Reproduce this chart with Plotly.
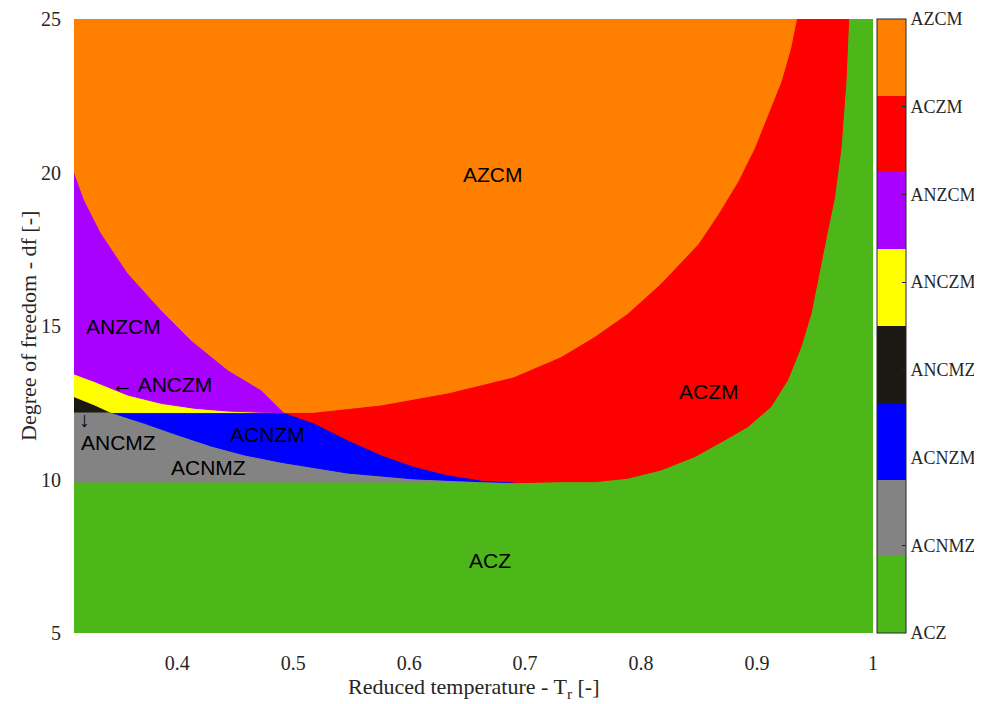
import plotly.graph_objects as go

# ---------------- data ----------------
X_MIN, X_MAX = 0.311, 1.0
Y_MIN, Y_MAX = 5.0, 25.0
Y_BASE = 9.9      # top of the ACZ band on the left
Y_FLAT = 12.18    # flat boundary (top of ACNZM / ACNMZ)

# regime names / colours, bottom-up as on the colour bar
REGION_NAMES = ["ACZ", "ACNMZ", "ACNZM", "ANCMZ", "ANCZM", "ANZCM", "ACZM", "AZCM"]
REGION_COLORS = ["#4DB71A", "#838383", "#0000FF", "#1C1915",
                 "#FFFF00", "#AA00FF", "#FF0000", "#FF8000"]
REGION_CODES = [1, 2, 3, 4, 5, 6, 7, 8]

# boundary: AZCM (orange) / ANZCM (purple)
OP_X = [0.311, 0.320, 0.3345, 0.3575, 0.3862, 0.412, 0.4437, 0.4724, 0.4922]
OP_Y = [20.03, 19.10, 18.02, 16.72, 15.52, 14.54, 13.57, 12.92, 12.18]

# boundary: AZCM (orange) / ACZM (red)
OR_X = [0.4922, 0.518, 0.576, 0.6336, 0.690, 0.731, 0.7597, 0.7885, 0.8172,
        0.849, 0.8661, 0.8834, 0.8977, 0.9092, 0.9207, 0.929, 0.934]
OR_Y = [12.18, 12.19, 12.43, 12.82, 13.34, 14.00, 14.65, 15.41, 16.39,
        17.66, 18.62, 19.70, 20.79, 21.87, 22.96, 24.05, 25.0]

# boundary: ACZM (red) / ACZ (green)
RG_X = [0.6966, 0.731, 0.760, 0.7885, 0.8172, 0.846, 0.8747, 0.892, 0.912,
        0.9264, 0.938, 0.9466, 0.9552, 0.961, 0.9667, 0.9724, 0.9767, 0.979]
RG_Y = [9.90, 9.93, 9.93, 10.04, 10.31, 10.74, 11.34, 11.72, 12.37,
        13.24, 14.33, 15.41, 17.04, 18.13, 19.16, 20.79, 22.96, 25.0]

# boundary: ACZM (red) / ACNZM (blue)
RB_X = [0.4922, 0.5184, 0.547, 0.5759, 0.6046, 0.6334, 0.662, 0.6966]
RB_Y = [12.18, 11.83, 11.29, 10.80, 10.42, 10.15, 9.98, 9.90]

# boundary: ACNZM (blue) / ACNMZ (gray)
BG_X = [0.3431, 0.3718, 0.4006, 0.4293, 0.458, 0.4897, 0.547, 0.6046, 0.662, 0.690]
BG_Y = [12.18, 11.83, 11.45, 11.09, 10.80, 10.56, 10.21, 10.02, 9.93, 9.90]

# boundary: ANCZM (yellow) / ANZCM (purple)
YP_X = [0.311, 0.3287, 0.3575, 0.3862, 0.415, 0.4437, 0.4724, 0.4922]
YP_Y = [13.44, 13.19, 12.75, 12.48, 12.32, 12.23, 12.19, 12.18]

# boundary: ANCMZ (black) / ANCZM (yellow)
KY_X = [0.311, 0.3287, 0.3431]
KY_Y = [12.70, 12.43, 12.18]

# in-plot labels
LABEL_TEXT = ["AZCM", "ANZCM", "\u2190 ANCZM", "\u2193", "ANCMZ", "ACNZM", "ACNMZ", "ACZM", "ACZ"]
LABEL_X = [0.672, 0.354, 0.387, 0.320, 0.349, 0.4776, 0.4272, 0.8586, 0.6698]
LABEL_Y = [19.92, 14.99, 13.09, 11.94, 11.21, 11.45, 10.39, 12.88, 7.35]

X_TICKS = [0.4, 0.5, 0.6, 0.7, 0.8, 0.9, 1.0]
X_TICKTEXT = ["0.4", "0.5", "0.6", "0.7", "0.8", "0.9", "1"]
Y_TICKS = [5, 10, 15, 20, 25]

# ---------------- build the region polygons ----------------
C = dict(zip(REGION_NAMES, REGION_COLORS))
polys = []
# ACZ (background)
polys.append(("ACZ", [X_MIN, X_MAX, X_MAX, X_MIN], [Y_MIN, Y_MIN, Y_MAX, Y_MAX]))
# ACNMZ (gray)
polys.append(("ACNMZ", [X_MIN, X_MIN] + BG_X, [Y_BASE, Y_FLAT] + BG_Y))
# ACNZM (blue)
polys.append(("ACNZM", [BG_X[0]] + RB_X + BG_X[::-1], [Y_FLAT] + RB_Y + BG_Y[::-1]))
# ANCMZ (black)
polys.append(("ANCMZ", [X_MIN] + KY_X, [Y_FLAT] + KY_Y))
# ANCZM (yellow)
polys.append(("ANCZM", YP_X + KY_X[::-1], YP_Y + KY_Y[::-1]))
# ANZCM (purple)
polys.append(("ANZCM", OP_X + YP_X[::-1], OP_Y + YP_Y[::-1]))
# ACZM (red)
polys.append(("ACZM", OR_X + RG_X[::-1] + RB_X[::-1], OR_Y + RG_Y[::-1] + RB_Y[::-1]))
# AZCM (orange)
polys.append(("AZCM", [X_MIN] + OP_X + OR_X[1:], [Y_MAX] + OP_Y + OR_Y[1:]))

fig = go.Figure()
for name, xs, ys in polys:
    fig.add_trace(go.Scatter(
        x=xs, y=ys, mode="lines", fill="toself",
        fillcolor=C[name], line=dict(color=C[name], width=1),
        hoverinfo="skip", showlegend=False))

# colour bar via a hidden marker trace
n = len(REGION_COLORS)
cscale = []
for i, c in enumerate(REGION_COLORS):
    cscale.append([i / n, c])
    cscale.append([(i + 1) / n, c])

fig.add_trace(go.Scatter(
    x=[0.6, 0.6], y=[7, 7], mode="markers",
    marker=dict(size=1, opacity=0, color=[REGION_CODES[0], REGION_CODES[-1]],
                colorscale=cscale, cmin=REGION_CODES[0], cmax=REGION_CODES[-1],
                showscale=True,
                colorbar=dict(
                    x=1.005, xanchor="left", xpad=0, y=0.5, yanchor="middle",
                    len=1, lenmode="fraction", ypad=0, thickness=29,
                    outlinewidth=1, outlinecolor="#262626",
                    tickvals=REGION_CODES, ticktext=REGION_NAMES,
                    ticks="inside", ticklen=4, tickcolor="#262626",
                    tickfont=dict(family="Liberation Serif", size=18, color="#262626"))),
    hoverinfo="skip", showlegend=False))

for t, x, y in zip(LABEL_TEXT, LABEL_X, LABEL_Y):
    fig.add_annotation(x=x, y=y, text=t, showarrow=False,
                       font=dict(family="Liberation Sans", size=21, color="#000000"),
                       xanchor="center", yanchor="middle")

# axis titles
fig.add_annotation(xref="paper", yref="paper", x=0.5, y=-0.0896,
                   text="Reduced temperature - T<sub>r</sub> [-]", showarrow=False,
                   font=dict(family="Liberation Serif", size=22, color="#262626"),
                   xanchor="center", yanchor="middle")
fig.add_annotation(xref="paper", yref="paper", x=-0.0576, y=0.5, textangle=-90,
                   text="Degree of freedom - df [-]", showarrow=False,
                   font=dict(family="Liberation Serif", size=22, color="#262626"),
                   xanchor="center", yanchor="middle")

# the page body has an 8 px margin, so the figure is sized to fit the window
fig.update_layout(
    width=974, height=696,
    margin=dict(l=66, r=109, t=11, b=71, autoexpand=False),
    paper_bgcolor="white", plot_bgcolor="white",
    showlegend=False,
    xaxis=dict(range=[X_MIN, X_MAX], tickvals=X_TICKS, ticktext=X_TICKTEXT,
               showgrid=False, zeroline=False, showline=False,
               ticks="outside", ticklen=12, tickcolor="rgba(0,0,0,0)",
               tickfont=dict(family="Liberation Serif", size=20, color="#262626")),
    yaxis=dict(range=[Y_MIN, Y_MAX], tickvals=Y_TICKS,
               showgrid=False, zeroline=False, showline=False,
               ticks="outside", ticklen=8, tickcolor="rgba(0,0,0,0)",
               tickfont=dict(family="Liberation Serif", size=20, color="#262626")),
)

fig.write_html("out.html")
